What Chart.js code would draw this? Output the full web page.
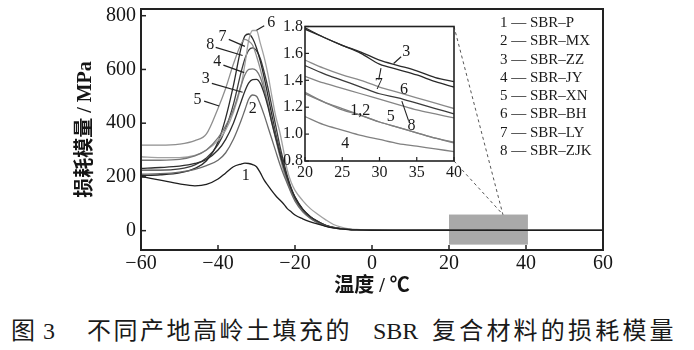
<!DOCTYPE html>
<html><head><meta charset="utf-8">
<script src="https://cdn.jsdelivr.net/npm/chart.js@4.4.1/dist/chart.umd.min.js"></script>
<style>
html,body{margin:0;padding:0;background:#fff;}
#wrap{position:relative;width:694px;height:350px;overflow:hidden;background:#fff;}
#main{position:absolute;left:0;top:0;}
#inset{position:absolute;left:270px;top:15px;}
#cap{position:absolute;left:0;top:317px;width:694px;height:28px;font-family:'Liberation Serif','Noto Sans CJK SC',serif;font-size:24px;line-height:28px;color:#1a1a1a;}
#cap span{position:absolute;top:0;white-space:nowrap;}
#cap .cj{letter-spacing:2.5px;}
#cap .cj2{letter-spacing:3.2px;}
</style></head>
<body>
<div id="wrap">
<canvas id="main" width="694" height="300"></canvas>
<canvas id="inset" width="200" height="175"></canvas>
<div id="cap"><span style="left:11px">图</span><span style="left:43px">3</span><span class="cj" style="left:87px">不同产地高岭土填充的</span><span style="left:373px">SBR</span><span class="cj2" style="left:432px">复合材料的损耗模量</span></div>
</div>
<script>
// ---------- data ----------
const temps = [-60,-55,-50,-46,-43,-40,-38,-36,-34,-33,-32,-31,-30,-29,-28,-27,-26,-25,-24,-23,-22,-21,-20,-18,-16,-14,-12,-10,-8,-6,-4,-2,0,5,10,20,30,40,50,60];
const sbrP   = [202,188,174,167,172,192,215,238,248,251,250,246,238,215,188,168,148,130,115,100,82,70,58,44,33,24,16,10,6.5,4,2.8,2,1.6,1.4,1.35,1.31,1.09,0.94,0.8,0.7];
const sbrMX  = [210,212,218,228,242,262,290,340,410,450,490,505,500,470,430,385,340,295,250,210,175,140,110,70,45,28,17,10,6.5,4.2,2.9,2.1,1.8,1.6,1.5,1.31,1.09,0.94,0.8,0.72];
const sbrZZ  = [232,235,240,250,265,300,340,400,480,520,550,562,563,548,510,460,400,345,290,240,195,155,122,78,50,32,19,11.5,7.5,5,3.5,2.6,2.3,2.1,2,1.79,1.55,1.39,1.2,1.1];
const sbrJY  = [262,262,265,278,300,345,390,450,540,580,600,602,595,570,525,470,410,350,290,235,190,150,118,75,48,30,18,11,7,4.5,3,2.2,1.8,1.5,1.4,1.13,0.96,0.87,0.78,0.7];
const sbrXN  = [318,318,322,335,360,455,530,620,695,712,705,690,650,600,540,470,400,340,280,225,180,145,115,75,48,30,18,11,7,4.5,3,2.2,1.8,1.6,1.5,1.43,1.26,1.12,1,0.9];
const sbrBH  = [275,272,272,280,300,335,375,440,540,620,710,745,745,697,645,580,500,425,370,300,225,180,150,112,82,60,40,23,13,7,4.5,3,2.5,2,1.8,1.55,1.35,1.19,1.08,1];
const sbrLY  = [205,208,215,232,260,330,420,540,680,725,732,715,680,630,570,500,430,360,300,245,195,155,125,80,52,34,20,12,7.5,5,3.5,2.6,2.2,2,1.9,1.78,1.52,1.35,1.2,1.1];
const sbrZJK = [225,225,230,245,270,320,380,470,590,640,672,680,670,640,590,530,460,390,320,260,205,160,125,80,52,34,20,12,7.5,5,3.5,2.5,2.1,1.9,1.8,1.51,1.30,1.15,1.05,0.95];

const insetTemps = [20,22.5,25,27.5,30,32.5,35,37.5,40];
const inP   = [1.31,1.24,1.19,1.14,1.09,1.05,1.01,0.97,0.94];
const inMX  = [1.30,1.24,1.18,1.14,1.09,1.05,1.01,0.97,0.935];
const inZZ  = [1.79,1.72,1.66,1.61,1.55,1.51,1.47,1.42,1.39];
const inJY  = [1.13,1.07,1.03,0.99,0.96,0.93,0.91,0.89,0.87];
const inXN  = [1.43,1.38,1.34,1.30,1.26,1.22,1.18,1.15,1.12];
const inBH  = [1.55,1.49,1.44,1.40,1.35,1.31,1.27,1.23,1.19];
const inLY  = [1.78,1.72,1.66,1.60,1.52,1.48,1.44,1.39,1.35];
const inZJK = [1.51,1.45,1.40,1.35,1.30,1.27,1.23,1.19,1.15];

const seriesNames = ['SBR–P','SBR–MX','SBR–ZZ','SBR–JY','SBR–XN','SBR–BH','SBR–LY','SBR–ZJK'];
const xTicks = [-60,-40,-20,0,20,40,60];
const yTicks = [0,200,400,600,800];
const insetXTicks = [20,25,30,35,40];
const insetYTicks = [0.8,1.0,1.2,1.4,1.6,1.8];
const zoomBox = {x0:20, x1:40.5, y0:-52, y1:60};
const zoomTip = [34, 60];

// ---------- styles ----------
const serif = "'Liberation Serif','Noto Sans CJK SC',serif";
const colors = ['#1e1e1e','#6a6a6a','#2e2e2e','#777777','#8e8e8e','#a2a2a2','#2a2a2a','#3c3c3c'];
const insetColors = ['#808080','#808080','#2a2a2a','#808080','#858585','#8a8a8a','#2a2a2a','#3a3a3a'];
const INSET_LEFT = 270, INSET_TOP = 15;

const mainValues = [sbrP,sbrMX,sbrZZ,sbrJY,sbrXN,sbrBH,sbrLY,sbrZJK];
const insetValues = [inP,inMX,inZZ,inJY,inXN,inBH,inLY,inZJK];

const mainLabels = [
  {t:'1', x:-32.8, y:205},
  {t:'2', x:-31.0, y:455},
  {t:'3', x:-43.2, y:565, from:[-41.6,548], to:[-33.6,515]},
  {t:'4', x:-40.2, y:630, from:[-38.6,616], to:[-33.2,588]},
  {t:'5', x:-45.3, y:488, from:[-43.6,482], to:[-39.7,464]},
  {t:'6', x:-26.2, y:775, from:[-28.0,763], to:[-30.0,746]},
  {t:'7', x:-38.8, y:722, from:[-37.2,712], to:[-33.0,686]},
  {t:'8', x:-42.0, y:690, from:[-40.6,682], to:[-33.6,652]}
];
const insetLabels = [
  {t:'3', x:33.6, y:1.61, from:[32.9,1.575], to:[31.9,1.525]},
  {t:'7', x:29.9, y:1.37, from:[29.9,1.405], to:[30.2,1.49]},
  {t:'6', x:33.3, y:1.33},
  {t:'5', x:31.5, y:1.125},
  {t:'8', x:34.3, y:1.065, from:[33.9,1.10], to:[33.0,1.245]},
  {t:'1,2', x:27.4, y:1.17},
  {t:'4', x:25.4, y:0.93}
];

function minusFmt(v){ return v < 0 ? '\u2212' + (-v) : String(v); }
function seg(ctx,x1,y1,x2,y2){ ctx.beginPath(); ctx.moveTo(x1,y1); ctx.lineTo(x2,y2); ctx.stroke(); }

// ---------- inset chart ----------
const insetDeco = {
  id:'insetDeco',
  beforeDatasetsDraw(chart){
    const {ctx, chartArea:a} = chart;
    ctx.save(); ctx.fillStyle='#fff';
    ctx.fillRect(a.left,a.top,a.right-a.left,a.bottom-a.top);
    ctx.restore();
  },
  afterDraw(chart){
    const {ctx, chartArea:a, scales:{x,y}} = chart;
    ctx.save();
    ctx.strokeStyle='#222'; ctx.lineWidth=1.6;
    ctx.strokeRect(a.left,a.top,a.right-a.left,a.bottom-a.top);
    ctx.lineWidth=1.2;
    insetXTicks.forEach(v=>{const p=x.getPixelForValue(v); seg(ctx,p,a.bottom,p,a.bottom-4);});
    insetYTicks.forEach(v=>{const p=y.getPixelForValue(v); seg(ctx,a.left,p,a.left+4,p);});
    ctx.fillStyle='#1a1a1a'; ctx.font="16px "+serif; ctx.textAlign='center'; ctx.textBaseline='middle';
    ctx.lineWidth=1.1; ctx.strokeStyle='#222';
    insetLabels.forEach(l=>{
      ctx.fillText(l.t, x.getPixelForValue(l.x), y.getPixelForValue(l.y));
      if(l.from) seg(ctx,x.getPixelForValue(l.from[0]),y.getPixelForValue(l.from[1]),x.getPixelForValue(l.to[0]),y.getPixelForValue(l.to[1]));
    });
    ctx.restore();
  }
};

const insetChart = new Chart(document.getElementById('inset'), {
  type:'line',
  data:{datasets: insetValues.map((vals,i)=>({
    label: seriesNames[i],
    data: insetTemps.map((t,j)=>({x:t,y:vals[j]})),
    borderColor: insetColors[i], borderWidth:1.3, pointRadius:0, fill:false,
    cubicInterpolationMode:'monotone'
  }))},
  options:{
    responsive:false, animation:false, devicePixelRatio:1,
    layout:{padding:{left:0,right:16,top:11.5,bottom:0}},
    plugins:{legend:{display:false}, tooltip:{enabled:false}},
    scales:{
      x:{type:'linear', min:20, max:40,
        afterBuildTicks:s=>{s.ticks=insetXTicks.map(v=>({value:v}));},
        afterFit:s=>{s.height=29; s.paddingLeft=0; s.paddingRight=0;},
        grid:{display:false, drawTicks:false}, border:{display:false},
        ticks:{font:{family:serif,size:16}, color:'#1a1a1a', padding:2, maxRotation:0, autoSkip:false, callback:v=>String(v)}},
      y:{min:0.8, max:1.8,
        afterBuildTicks:s=>{s.ticks=insetYTicks.map(v=>({value:v}));},
        afterFit:s=>{s.width=35; s.paddingTop=0; s.paddingBottom=0;},
        grid:{display:false, drawTicks:false}, border:{display:false},
        ticks:{font:{family:serif,size:16}, color:'#1a1a1a', padding:2, autoSkip:false, callback:v=>v.toFixed(1)}}
    }
  },
  plugins:[insetDeco]
});

// ---------- main chart ----------
const mainDeco = {
  id:'mainDeco',
  beforeDatasetsDraw(chart){
    const {ctx, scales:{x,y}} = chart;
    const l=x.getPixelForValue(zoomBox.x0), r=x.getPixelForValue(zoomBox.x1);
    const t=y.getPixelForValue(zoomBox.y1), b=y.getPixelForValue(zoomBox.y0);
    ctx.save(); ctx.fillStyle='#a9a9a9'; ctx.fillRect(l,t,r-l,b-t); ctx.restore();
  },
  afterDraw(chart){
    const {ctx, chartArea:a, scales:{x,y}} = chart;
    ctx.save();
    // connectors to inset
    const px=x.getPixelForValue(zoomTip[0]), py=y.getPixelForValue(zoomTip[1]);
    const ia=insetChart.chartArea;
    ctx.strokeStyle='#555'; ctx.lineWidth=1; ctx.setLineDash([3,3]);
    seg(ctx, ia.right+INSET_LEFT, ia.top+INSET_TOP, px, py);
    seg(ctx, ia.right+INSET_LEFT, ia.bottom+INSET_TOP, px, py);
    ctx.setLineDash([]);
    // frame + inward ticks
    ctx.strokeStyle='#222'; ctx.lineWidth=2;
    ctx.strokeRect(a.left,a.top,a.right-a.left,a.bottom-a.top);
    ctx.lineWidth=1.5;
    xTicks.forEach(v=>{const p=x.getPixelForValue(v); seg(ctx,p,a.bottom,p,a.bottom-5);});
    yTicks.forEach(v=>{const p=y.getPixelForValue(v); seg(ctx,a.left,p,a.left+5,p);});
    // curve labels
    ctx.fillStyle='#1a1a1a'; ctx.font="16px "+serif; ctx.textAlign='center'; ctx.textBaseline='middle';
    ctx.lineWidth=1.2; ctx.strokeStyle='#222';
    mainLabels.forEach(l=>{
      ctx.fillText(l.t, x.getPixelForValue(l.x), y.getPixelForValue(l.y));
      if(l.from) seg(ctx,x.getPixelForValue(l.from[0]),y.getPixelForValue(l.from[1]),x.getPixelForValue(l.to[0]),y.getPixelForValue(l.to[1]));
    });
    // legend
    ctx.textAlign='left'; ctx.font="15px "+serif;
    seriesNames.forEach((n,i)=>{ ctx.fillText((i+1)+' \u2014 '+n, 500, 23+18.3*i); });
    ctx.restore();
  }
};

const mainChart = new Chart(document.getElementById('main'), {
  type:'line',
  data:{datasets: mainValues.map((vals,i)=>({
    label: seriesNames[i],
    data: temps.map((t,j)=>({x:t,y:vals[j]})),
    borderColor: colors[i], borderWidth:1.3, pointRadius:0, fill:false,
    cubicInterpolationMode:'monotone'
  }))},
  options:{
    responsive:false, animation:false, devicePixelRatio:1,
    layout:{padding:{left:0,right:91,top:9,bottom:0}},
    plugins:{legend:{display:false}, tooltip:{enabled:false}},
    scales:{
      x:{type:'linear', min:-60, max:60,
        afterBuildTicks:s=>{s.ticks=xTicks.map(v=>({value:v}));},
        afterFit:s=>{s.height=50; s.paddingLeft=0; s.paddingRight=0;},
        grid:{display:false, drawTicks:false}, border:{display:false},
        ticks:{font:{family:serif,size:20}, color:'#151515', padding:2, maxRotation:0, autoSkip:false, callback:v=>minusFmt(v)},
        title:{display:true, text:'温度 / ℃', font:{family:serif,size:20,weight:'bold'}, color:'#151515', padding:{top:0,bottom:1}}},
      y:{min:-72, max:825,
        afterBuildTicks:s=>{s.ticks=yTicks.map(v=>({value:v}));},
        afterFit:s=>{s.width=141; s.paddingTop=0; s.paddingBottom=0;},
        grid:{display:false, drawTicks:false}, border:{display:false},
        ticks:{font:{family:serif,size:20}, color:'#151515', padding:5, autoSkip:false, callback:v=>String(v)},
        title:{display:true, text:'损耗模量 / MPa', font:{family:serif,size:20,weight:'bold'}, color:'#151515', padding:{top:74,bottom:0}}}
    }
  },
  plugins:[mainDeco]
});
</script>
</body></html>
